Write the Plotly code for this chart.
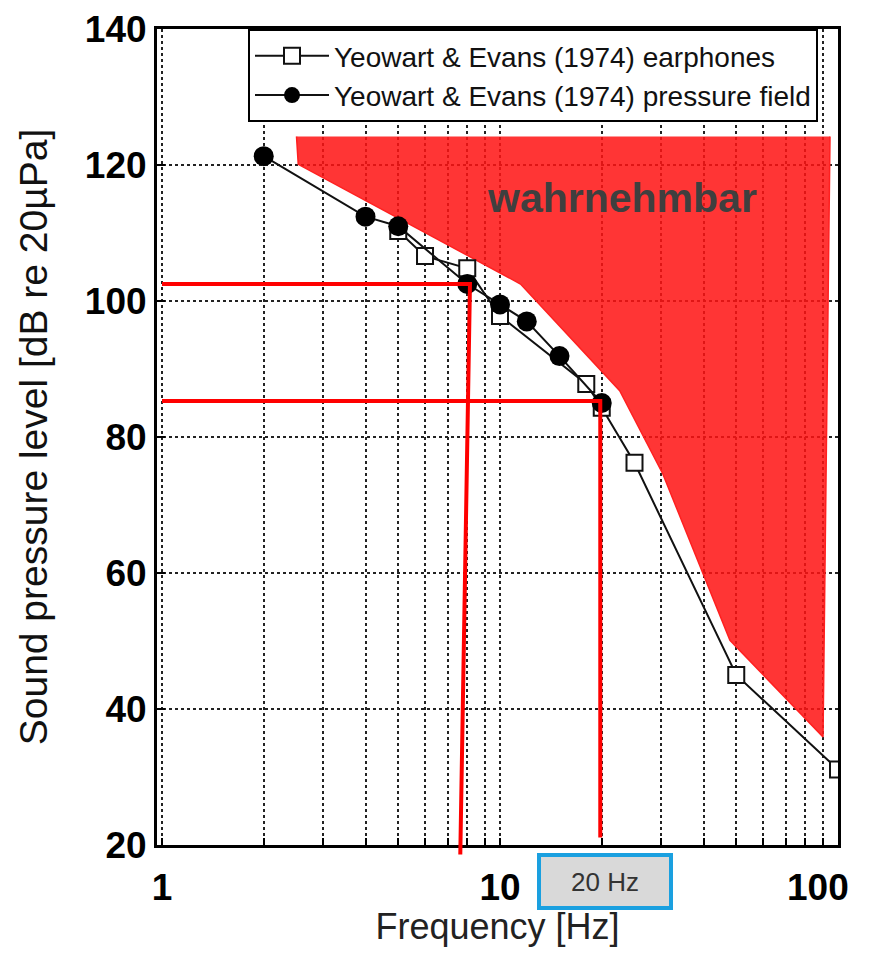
import math
import plotly.graph_objects as go

# ---- data ----
freq_ear = [5, 6, 8, 10, 18, 20, 25, 50, 100]
spl_ear = [110.3, 106.6, 104.8, 97.8, 87.8, 84.3, 76.2, 45.0, 31.1]

freq_pf = [2, 4, 5, 8, 10, 12, 15, 20]
spl_pf = [121.3, 112.4, 111.0, 102.5, 99.5, 97.0, 91.9, 85.0]

region_f = [2.5, 2.53, 11.5, 22.6, 30.3, 47.9, 90.3, 94.7]
region_spl = [124.2, 120.1, 102.5, 86.8, 74.6, 50.1, 35.9, 124.2]

# guide lines
guide_f_corner = [8.15, 19.8]
guide_level = [102.5, 85.3]
guide_f_bottom = [7.63, 19.8]
guide_level_bottom = [18.6, 21.1]
guide_f_start = 1.0

x_tickvals = [1, 2, 3, 4, 5, 6, 7, 8, 9, 10, 20, 30, 40, 50, 60, 70, 80, 90, 100]
x_ticktext = ["1"] + [""] * 8 + ["10"] + [""] * 9   # "100" is placed as a label below (kept inside the page)
x_last_label = "100"
y_tickvals = [20, 40, 60, 80, 100, 120, 140]

FONT = "Liberation Sans, Arial, sans-serif"
XLO, XHI = -0.0148, 2.0
YLO, YHI = 20, 140


def xp(f):
    return (math.log10(f) - XLO) / (XHI - XLO)


def yp(v):
    return (v - YLO) / (YHI - YLO)


fig = go.Figure()

fig.add_trace(go.Scatter(
    x=region_f, y=region_spl, mode="lines", fill="toself",
    fillcolor="rgba(255,20,20,0.86)", line=dict(color="#ff2020", width=1.5),
    showlegend=False, hoverinfo="skip"))

fig.add_trace(go.Scatter(
    x=freq_ear, y=spl_ear, mode="lines+markers",
    name="Yeowart & Evans (1974) earphones",
    line=dict(color="#111", width=2),
    marker=dict(symbol="square", size=16, color="white",
                line=dict(color="#111", width=2))))

fig.add_trace(go.Scatter(
    x=freq_pf, y=spl_pf, mode="lines+markers",
    name="Yeowart & Evans (1974) pressure field",
    line=dict(color="#111", width=2),
    marker=dict(symbol="circle", size=20, color="#000")))

shapes = []
for fc, lv, fb, lb in zip(guide_f_corner, guide_level, guide_f_bottom, guide_level_bottom):
    shapes.append(dict(type="path", xref="paper", yref="paper",
                       path=f"M{xp(guide_f_start)},{yp(lv)} L{xp(fc)},{yp(lv)} L{xp(fb)},{yp(lb)}",
                       line=dict(color="#ff0000", width=4), layer="above"))

PLOT_H = 816

fig.update_layout(
    width=862, height=939,
    margin=dict(l=149, r=32, t=21, b=102),
    paper_bgcolor="white", plot_bgcolor="white",
    font=dict(family=FONT, color="#000"),
    shapes=shapes,
    showlegend=True,
    legend=dict(x=(248 - 157) / 681, xanchor="left", y=1.0, yanchor="top",
                bgcolor="white", bordercolor="#000", borderwidth=2,
                font=dict(size=28, family=FONT, color="#111"),
                itemwidth=74, tracegroupgap=0),
    annotations=[
        dict(text="<b>wahrnehmbar</b>", x=math.log10(23.0), y=115.1, xref="x", yref="y",
             showarrow=False, font=dict(size=41, color="#3f3f3f", family=FONT)),
        dict(text="20 Hz", x=(605 - 157) / 681, y=(845 - 881) / PLOT_H, xref="paper", yref="paper",
             xanchor="center", yanchor="middle",
             showarrow=False, width=120, height=41, align="center",
             bgcolor="#d9d9d9", bordercolor="#1aa0e0", borderwidth=4, borderpad=4,
             font=dict(size=26, color="#333", family=FONT)),
        dict(text=x_last_label, x=1.0, y=0.0, xref="paper", yref="paper",
             xanchor="right", yanchor="middle", xshift=13, yshift=-42,
             showarrow=False,
             font=dict(size=37, color="#000", family=FONT, weight="bold")),
    ],
)

fig.update_xaxes(
    type="log", range=[XLO, XHI], automargin=False,
    tickvals=x_tickvals, ticktext=x_ticktext, ticklabeloverflow="allow",
    showgrid=True, gridcolor="#222", gridwidth=1.5, griddash="dot",
    showline=True, linecolor="#000", linewidth=3, mirror=True,
    ticks="inside", ticklen=7, tickwidth=1.5, tickcolor="#000",
    ticklabelstandoff=8,
    tickfont=dict(size=37, family=FONT, color="#000", weight="bold"),
    title=dict(text="Frequency [Hz]", font=dict(size=36, family=FONT, color="#222"), standoff=25),
    zeroline=False,
)
fig.update_yaxes(
    range=[YLO, YHI], tickvals=y_tickvals, automargin=False, ticklabeloverflow="allow",
    showgrid=True, gridcolor="#222", gridwidth=1.5, griddash="dot",
    showline=True, linecolor="#000", linewidth=3, mirror=True,
    ticks="inside", ticklen=8, tickwidth=2, tickcolor="#000",
    tickfont=dict(size=37, family=FONT, color="#000", weight="bold"),
    title=dict(text="Sound pressure level [dB re 20µPa]", font=dict(size=39, family=FONT, color="#111"), standoff=26),
    zeroline=False,
)

fig.write_html("out.html")
